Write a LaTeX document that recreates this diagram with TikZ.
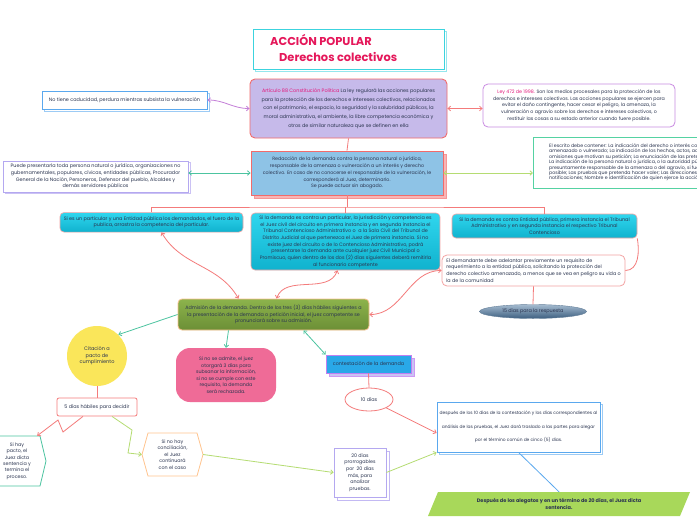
\documentclass[tikz,border=0pt]{standalone}
\usepackage{fontspec}
\setmainfont{Poppins}
\usetikzlibrary{shapes.geometric,shadows,arrows.meta}
\definecolor{titlecol}{HTML}{E5175A}
\definecolor{cyanb}{HTML}{3CD3DE}
\definecolor{purfill}{HTML}{C6BAEA}
\definecolor{redb}{HTML}{F26B6B}
\definecolor{pinkt}{HTML}{E2187A}
\definecolor{bluefill}{HTML}{8EC3E6}
\definecolor{cyanA}{HTML}{30D6EE}
\definecolor{cyanB}{HTML}{10B2CE}
\definecolor{cyanborder}{HTML}{F3A3A3}
\definecolor{darktext}{HTML}{2B3550}
\definecolor{admtop}{HTML}{8CB34C}
\definecolor{admbot}{HTML}{6C8F36}
\definecolor{admborder}{HTML}{F8C18F}
\definecolor{elltop}{HTML}{A5BBD0}
\definecolor{ellbot}{HTML}{3D5F80}
\definecolor{yellowc}{HTML}{FAE65A}
\definecolor{pinkbox}{HTML}{EF6B97}
\definecolor{contblue}{HTML}{29A8E8}
\definecolor{greenpara}{HTML}{A8D85A}
\definecolor{linered}{HTML}{F47B7B}
\definecolor{lineteal}{HTML}{4CC4A0}
\definecolor{linegreen}{HTML}{B5DC72}
\definecolor{linepurp}{HTML}{C47FD8}
\definecolor{lineblue}{HTML}{5AA8EE}
\definecolor{lavb}{HTML}{B4A8F0}
\definecolor{orchid}{HTML}{C98BE2}
\definecolor{mint}{HTML}{55D2A2}
\definecolor{peach}{HTML}{FFC48E}
\definecolor{contborder}{HTML}{C080F0}
\tikzset{
  txt/.style={font=\fontsize{4.9}{6.8}\selectfont, align=center, inner sep=0pt, text=darktext},
  conn/.style={line width=0.8pt},
  bitips/.style={{Straight Barb[length=2.5pt,width=4.5pt]}-{Straight Barb[length=2.5pt,width=4.5pt]}},
  endtip/.style={-{Straight Barb[length=2.5pt,width=4.5pt]}},
  cyanbox/.style={txt, rounded corners=4pt, top color=cyanA, bottom color=cyanB, draw=cyanborder, line width=0.6pt},
  whitebox/.style={txt, fill=white, line width=0.8pt},
}
\begin{document}
\begin{tikzpicture}[x=1pt,y=-1pt]
\useasboundingbox (0,0) rectangle (697,520);
\clip (0,0) rectangle (697,520);
\fill[white] (0,0) rectangle (697,520);

% title
\node[draw=cyanb, line width=0.9pt, fill=white, minimum width=191pt, minimum height=40pt,
  general shadow={shadow xshift=2pt, shadow yshift=-2pt, fill=white, draw=cyanb!55, line width=0.9pt}] (titlebox) at (348.5,49) {};
\node[anchor=base west, inner sep=0pt, font=\fontsize{11.4}{13}\selectfont\bfseries, text=titlecol] (title1) at (270,45.7) {ACCIÓN POPULAR};
\node[anchor=base west, inner sep=0pt, font=\fontsize{11.4}{13}\selectfont\bfseries, text=titlecol] (title2) at (279,61) {Derechos colectivos};

% article 88
\node[txt, font=\fontsize{4.9}{8.65}\selectfont, rounded corners=5pt, fill=purfill, draw=redb, line width=0.9pt,
  minimum width=197pt, minimum height=59pt] (art88) at (348.5,108.5)
 {{\color{pinkt}Artículo 88 Constitución Política} La ley regulará las acciones populares\\
  para la protección de los derechos e intereses colectivos, relacionados\\
  con el patrimonio, el espacio, la seguridad y la salubridad públicos, la\\
  moral administrativa, el ambiente, la libre competencia económica y\\
  otros de similar naturaleza que se definen en ella};

\node[whitebox, draw=lineblue, minimum width=165pt, minimum height=18pt,
  general shadow={shadow xshift=2.5pt, shadow yshift=-2.5pt, fill=white, draw=lineblue!60, line width=0.8pt}] (caducidad) at (124.5,100)
 {No tiene caducidad, perdura mientras subsista la vulneración};

\node[whitebox, font=\fontsize{4.75}{6.7}\selectfont, rounded corners=5pt, draw=orchid, minimum width=192pt, minimum height=43pt] (ley) at (579,105.5)
 {{\color{pinkt}Ley 472 de 1998.} Son los medios procesales para la protección de los\\
  derechos e intereses colectivos. Las acciones populares se ejercen para\\
  evitar el daño contingente, hacer cesar el peligro, la amenaza, la\\
  vulneración o agravio sobre los derechos e intereses colectivos, o\\
  restituir las cosas a su estado anterior cuando fuere posible.};

% redaccion
\node[txt, fill=bluefill, draw=redb, line width=0.9pt, minimum width=192pt, minimum height=44pt,
  font=\fontsize{4.75}{6.8}\selectfont,
  general shadow={shadow xshift=3pt, shadow yshift=-3pt, fill=redb!50, draw=redb!70}] (redaccion) at (347,173)
 {Redacción de la demanda contra la persona natural o jurídica,\\
  responsable de la amenaza o vulneración a un interés y derecho\\
  colectivo. En caso de no conocerse el responsable de la vulneración, le\\
  corresponderá al Juez, determinarlo.\\
  Se puede actuar sin abogado.};

\node[whitebox, draw=lavb, minimum width=185pt, minimum height=31pt,
  general shadow={shadow xshift=2pt, shadow yshift=-1pt, fill=white, draw=lavb!70, line width=0.8pt}] (puede) at (95.5,176.5)
 {Puede presentarla toda persona natural o jurídica, organizaciones no\\
  gubernamentales, populares, cívicas, entidades públicas, Procurador\\
  General de la Nación, Personeros, Defensor del pueblo, Alcaldes y\\
  demás servidores públicos};

\node[whitebox, draw=mint, anchor=west, minimum width=200pt, minimum height=51pt, align=left,
  font=\fontsize{4.7}{5.4}\selectfont, inner xsep=9pt] (escrito) at (533,162.5)
 {El escrito debe contener: La indicación del derecho o interés colectivo\\
  amenazado o vulnerado; La indicación de los hechos, actos, acciones u\\
  omisiones que motivan su petición; La enunciación de las pretensiones;\\
  La indicación de la persona natural o jurídica, o la autoridad pública\\
  presuntamente responsable de la amenaza o del agravio, si fuere\\
  posible; Las pruebas que pretenda hacer valer; Las direcciones para\\
  notificaciones; Nombre e identificación de quien ejerce la acción.};

% three cyan boxes
\node[cyanbox, minimum width=183pt, minimum height=19.5pt] (leftcyan) at (151.5,222.3)
 {Si es un particular y una Entidad pública los demandados, el fuero de la\\
  publica, arrastra la competencia del particular.};
\node[cyanbox, minimum width=189pt, minimum height=57pt, font=\fontsize{4.85}{6.67}\selectfont] (midcyan) at (345.5,241.5)
 {Si la demanda es contra un particular, la jurisdicción y competencia es\\
  el Juez civil del circuito en primera instancia y en segunda instancia el\\
  Tribunal Contencioso Administrativo o \ a la Sala Civil del Tribunal de\\
  Distrito Judicial al que pertenezca el Juez de primera instancia. Si no\\
  existe juez del circuito o de lo Contencioso Administrativo, podrá\\
  presentarse la demanda ante cualquier juez Civil Municipal o\\
  Promiscuo, quien dentro de los dos (2) días siguientes deberá remitirla\\
  al funcionario competente};
\node[cyanbox, minimum width=185pt, minimum height=24pt, font=\fontsize{4.85}{6.67}\selectfont] (rightcyan) at (544.5,226)
 {Si la demanda es contra Entidad pública, primera instancia el Tribunal\\
  Administrativo y en segunda instancia el respectivo Tribunal\\
  Contencioso};

\node[whitebox, rounded corners=5pt, draw=cyanborder, minimum width=183pt, minimum height=31pt,
  align=left, font=\fontsize{4.85}{6.67}\selectfont] (demandante) at (533.5,270.5)
 {El demandante debe adelantar previamente un requisito de\\
  requerimiento a la entidad pública, solicitando la protección del\\
  derecho colectivo amenazado, a menos que se vea en peligro su vida o\\
  la de la comunidad};

\node[ellipse, txt, top color=elltop, bottom color=ellbot, draw=ellbot!80, line width=0.4pt,
  minimum width=107pt, minimum height=14pt] (quince) at (533,311.5) {15 días para la respuesta};

% admission
\node[txt, rounded corners=4pt, top color=admtop, bottom color=admbot, draw=admborder, line width=0.8pt,
  minimum width=191pt, minimum height=31pt, font=\fontsize{4.85}{6.6}\selectfont] (admision) at (273.5,314.5)
 {Admisión de la demanda. Dentro de los tres (3) días hábiles siguientes a\\
  la presentación de la demanda o petición inicial, el juez competente se\\
  pronunciará sobre su admisión.};

% lower part
\node[circle, txt, fill=yellowc, minimum size=60pt, font=\fontsize{5}{6.6}\selectfont] (citacion) at (97,356)
 {Citación a\\pacto de\\cumplimiento};
\node[whitebox, draw=linered, rounded corners=2pt, minimum width=80pt, minimum height=18pt] (cinco) at (97,407)
 {5 días hábiles para decidir};
\draw[lineteal, line width=0.8pt, fill=white] (-25,436) -- (40,436) -- (46,461) -- (40,486) -- (-25,486) -- cycle;
\node[txt, font=\fontsize{4.8}{6.4}\selectfont, minimum width=40pt, minimum height=50pt] (pacto) at (17,461)
 {Si hay\\pacto, el\\Juez dicta\\sentencia y\\termina el\\proceso.};
\draw[peach, line width=0.8pt, fill=white] (142,454.5) -- (148,433) -- (197,433) -- (203,454.5) -- (197,476) -- (148,476) -- cycle;
\node[txt, font=\fontsize{4.8}{6.5}\selectfont, minimum width=61pt, minimum height=43pt] (noconc) at (172.5,454.5)
 {Si no hay\\conciliación,\\el Juez\\continuará\\con el caso};
\node[txt, rounded corners=14pt, fill=pinkbox, minimum width=100pt, minimum height=54pt,
  font=\fontsize{4.8}{6.5}\selectfont] (noadmite) at (226,375)
 {Si no se admite, el juez\\otorgará 3 días para\\subsanar la información,\\si no se cumple con este\\requisito, la demanda\\será rechazada.};
\node[txt, fill=contblue, draw=contborder, line width=0.8pt, minimum width=85pt, minimum height=18pt,
  general shadow={shadow xshift=3pt, shadow yshift=-3pt, fill=lavb!70, draw=contborder!80, line width=0.8pt}] (contesta) at (368.5,364)
 {contestación de la demanda};
\node[ellipse, whitebox, draw=linered, minimum width=48pt, minimum height=23pt] (diez) at (369,399.5)
 {10 días};
\node[whitebox, draw=lineblue, minimum width=163pt, minimum height=50pt, font=\fontsize{4.4}{13.5}\selectfont,
  general shadow={shadow xshift=2.5pt, shadow yshift=-2.5pt, fill=white, draw=lineblue!60, line width=0.8pt}] (despues) at (518.5,427)
 {después de los 10 días de la contestación y los días correspondientes al\\
  análisis de las pruebas, el Juez dará traslado a las partes para alegar\\
  por el término común de cinco (5) días.};
\node[whitebox, draw=lavb, minimum width=52pt, minimum height=49pt, font=\fontsize{4.8}{6.6}\selectfont,
  general shadow={shadow xshift=3pt, shadow yshift=-3pt, fill=white, draw=lavb!80, line width=0.8pt}] (veinte) at (360,472.5)
 {20 días\\prorrogables\\por \ 20 días\\más, para\\analizar\\pruebas.};
\fill[greenpara] (428,516) -- (438,492) -- (690,492) -- (680,516) -- cycle;
\node[txt, font=\fontsize{5}{7}\selectfont\bfseries, minimum width=240pt, minimum height=24pt] (sentencia) at (559,504)
 {Después de los alegatos y en un término de 20 días, el Juez dicta\\sentencia.};

% connectors
\draw[conn, linepurp, bitips] (art88.west) to[out=180,in=0] (caducidad.east);
\draw[conn, linered, bitips] (art88.east) -- (art88.east -| ley.west);
\draw[conn, linered] (art88.south) -- (redaccion.north);
\draw[conn, lineteal, bitips] (redaccion.west) -- (redaccion.west -| puede.east);
\draw[conn, linegreen, bitips] (redaccion.east) -- (redaccion.east -| escrito.west);
\coordinate (hub) at (345.5,207);
\draw[conn, linered] (redaccion.south) -- (redaccion.south |- hub);
\draw[conn, linered] (leftcyan.north) |- (hub) -| (rightcyan.north);
\draw[conn, linered] (hub) -- (midcyan.north);
\draw[conn, linered, bitips] ([xshift=10pt]leftcyan.south) to[out=-60,in=120] ([xshift=-35pt]admision.north);
\draw[conn, linered, bitips] ([xshift=-8pt]midcyan.south) to[out=-110,in=70] ([xshift=3pt]admision.north);
\draw[conn, linered] (rightcyan.south east) to[out=-80,in=0] (demandante.east);
\draw[conn, linered, bitips] (demandante.west) to[out=180,in=0] (admision.east);
\draw[conn, linered] (demandante.south) -- (quince.north);
\draw[conn, lineteal, endtip] (admision.west) -- (citacion.north east);
\draw[conn, lineteal, endtip] ([xshift=-45pt]admision.south) -- (noadmite.north);
\draw[conn, lineteal, bitips] ([xshift=30pt]admision.south) -- (contesta.north west);
\draw[conn, linered] (citacion.south) -- (cinco.north);
\coordinate (z1) at (63,432);
\coordinate (z2) at (58,420);
\draw[conn, linered, endtip] ([xshift=-14pt]cinco.south) -- (z1) -- (z2) -- (pacto.north east);
\coordinate (g1) at (132,430);
\coordinate (g2) at (128,453);
\draw[conn, linegreen, endtip] ([xshift=15pt]cinco.south) -- (g1) -- (g2) -- (noconc.west);
\draw[conn, linered] (contesta.south) -- (diez.north);
\draw[conn, linered, endtip] (diez.south east) -- ([yshift=-6pt]despues.west);
\draw[conn, linegreen, endtip] (noconc.east) -- (veinte.west);
\draw[conn, linegreen, endtip] (veinte.east) -- (despues.south west);
\draw[conn, lineblue] (despues.south) -- (sentencia.north);
\end{tikzpicture}
\end{document}
